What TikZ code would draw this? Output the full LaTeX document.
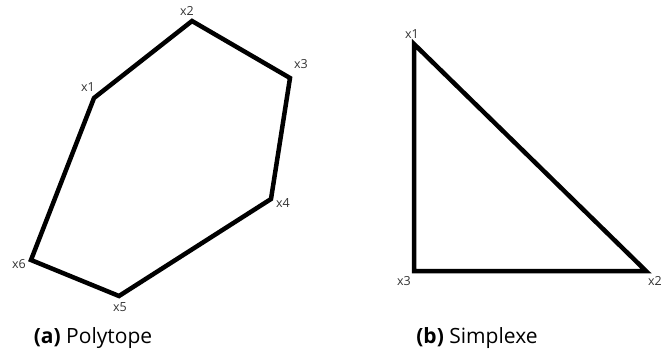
\documentclass[tikz,border=0pt]{standalone}
\usepackage{fontspec}
\setmainfont{Open Sans}
\usepackage{tikz}

\begin{document}
\begin{tikzpicture}[x=1pt, y=-1pt,
    vlabel/.style={inner sep=0pt, font=\fontsize{12.5}{14}\selectfont, text=black!80},
    caption/.style={inner sep=0pt, font=\fontsize{21}{24}\selectfont},
    edge/.style={line width=4.5pt, line join=miter}]
    \useasboundingbox (0,0) rectangle (661,360);
    % polytope
    \coordinate (p1) at (94,98);
    \coordinate (p2) at (192,21);
    \coordinate (p3) at (290,78);
    \coordinate (p4) at (271,199);
    \coordinate (p5) at (119,296);
    \coordinate (p6) at (31,260);
    \draw[edge] (p1) -- (p2) -- (p3) -- (p4) -- (p5) -- (p6) -- cycle;
    \node (lp1) [vlabel] at (88,87) {x1};
    \node (lp2) [vlabel] at (187,11) {x2};
    \node (lp3) [vlabel] at (301,64) {x3};
    \node (lp4) [vlabel] at (283,203) {x4};
    \node (lp5) [vlabel] at (120,307) {x5};
    \node (lp6) [vlabel] at (19,264) {x6};
    % simplexe
    \coordinate (s1) at (414,44);
    \coordinate (s2) at (646,271);
    \coordinate (s3) at (414,271);
    \draw[edge] (s1) -- (s2) -- (s3) -- cycle;
    \node (ls1) [vlabel] at (412,34) {x1};
    \node (ls2) [vlabel] at (655,281) {x2};
    \node (ls3) [vlabel] at (404,281) {x3};
    % captions
    \node (capa) [caption] at (93,338) {\textbf{(a)} Polytope};
    \node (capb) [caption] at (477,338) {\textbf{(b)} Simplexe};
\end{tikzpicture}
\end{document}
